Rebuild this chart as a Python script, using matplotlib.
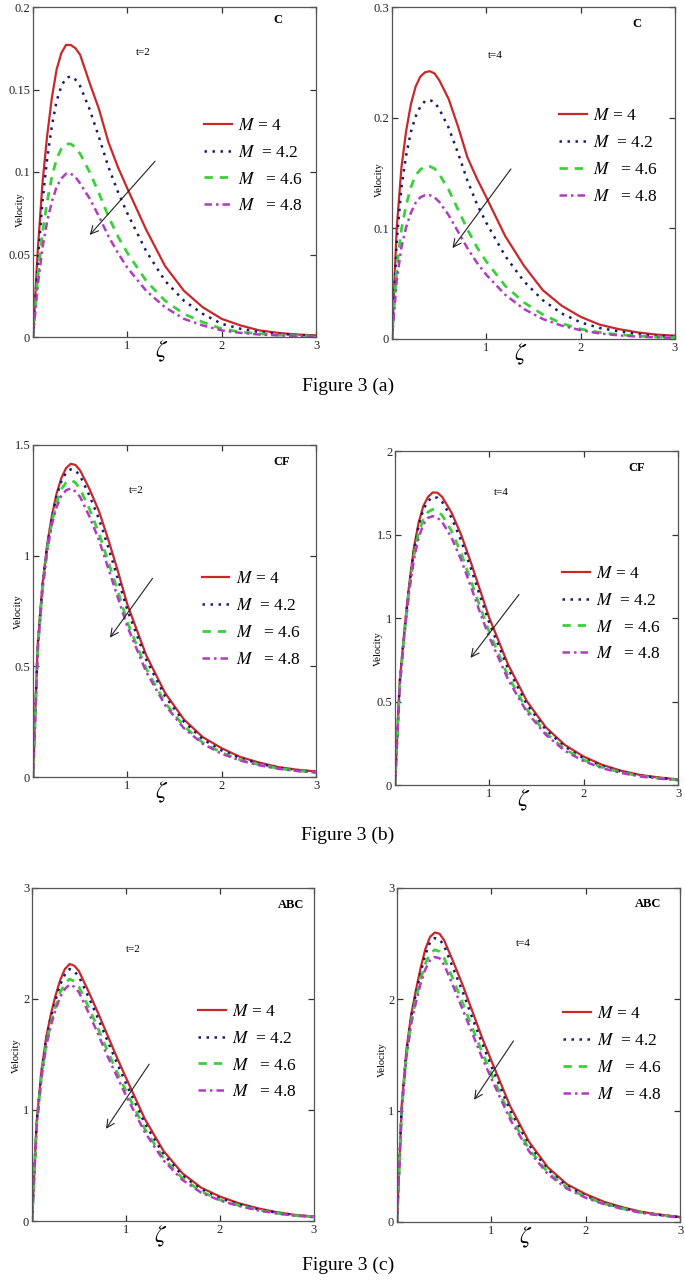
import matplotlib
matplotlib.use("Agg")
import matplotlib.pyplot as plt

plt.rcParams['font.family'] = ['Liberation Serif', 'DejaVu Serif']
plt.rcParams['mathtext.fontset'] = 'stix'

# ---------------- data ----------------
zeta = [0, 0.05, 0.1, 0.15, 0.2, 0.25, 0.3, 0.35, 0.4, 0.45, 0.5, 0.6, 0.7,
        0.8, 0.9, 1.0, 1.2, 1.4, 1.6, 1.8, 2.0, 2.2, 2.4, 2.6, 2.8, 3.0]

m_labels = [r"$M$ = 4", r"$M$  = 4.2", r"$M$   = 4.6", r"$M$   = 4.8"]

# Panel (a) left: C, t=2
c_t2_m40 = [0, .052, .093, .122, .145, .162, .172, .177, .177, .175, .171, .154, .138, .118, .103, .090, .065, .043, .028, .018, .011, .007, .004, .0025, .0015, .001]
c_t2_m42 = [0, .045, .082, .108, .128, .143, .152, .157, .158, .156, .152, .138, .121, .103, .088, .075, .052, .034, .022, .014, .008, .005, .003, .002, .0012, .0008]
c_t2_m46 = [0, .036, .063, .082, .097, .108, .114, .117, .117, .115, .111, .100, .087, .073, .061, .051, .034, .022, .014, .009, .005, .003, .002, .0012, .0008, .0005]
c_t2_m48 = [0, .031, .054, .070, .082, .091, .096, .099, .099, .097, .093, .084, .073, .061, .051, .042, .028, .018, .011, .007, .004, .0025, .0015, .001, .0006, .0004]

# Panel (a) right: C, t=4
c_t4_m40 = [0, .100, .155, .188, .212, .228, .237, .241, .242, .240, .234, .217, .192, .164, .145, .128, .093, .066, .044, .030, .020, .013, .009, .006, .004, .003]
c_t4_m42 = [0, .088, .137, .166, .187, .201, .210, .215, .216, .214, .208, .191, .168, .143, .122, .105, .075, .052, .035, .023, .015, .010, .007, .0045, .003, .002]
c_t4_m46 = [0, .064, .099, .121, .137, .148, .153, .156, .156, .154, .149, .135, .117, .099, .083, .070, .048, .033, .022, .014, .009, .006, .004, .0027, .0018, .0012]
c_t4_m48 = [0, .053, .083, .101, .114, .123, .128, .130, .130, .128, .124, .112, .097, .082, .069, .058, .040, .027, .018, .012, .008, .005, .0033, .0022, .0015, .001]

# Panel (b) left: CF, t=2
cf_t2_m40 = [0, .60, .87, 1.05, 1.18, 1.28, 1.35, 1.395, 1.415, 1.41, 1.385, 1.30, 1.20, 1.07, .93, .78, .55, .38, .26, .18, .13, .09, .065, .045, .033, .025]
cf_t2_m42 = [0, .59, .86, 1.04, 1.17, 1.27, 1.335, 1.375, 1.39, 1.385, 1.36, 1.27, 1.165, 1.035, .895, .755, .53, .365, .25, .17, .12, .085, .06, .042, .031, .023]
cf_t2_m46 = [0, .58, .85, 1.03, 1.15, 1.24, 1.30, 1.33, 1.342, 1.33, 1.30, 1.21, 1.10, .97, .84, .70, .49, .335, .23, .155, .11, .077, .055, .039, .028, .021]
cf_t2_m48 = [0, .57, .84, 1.02, 1.14, 1.22, 1.27, 1.295, 1.304, 1.29, 1.265, 1.175, 1.07, .94, .81, .68, .475, .325, .22, .15, .105, .074, .053, .037, .027, .020]

# Panel (b) right: CF, t=4
cf_t4_m40 = [0, .62, .93, 1.20, 1.42, 1.57, 1.67, 1.725, 1.752, 1.75, 1.725, 1.63, 1.50, 1.34, 1.17, 1.00, .72, .50, .345, .24, .17, .12, .085, .06, .045, .034]
cf_t4_m42 = [0, .61, .92, 1.19, 1.40, 1.55, 1.65, 1.70, 1.725, 1.72, 1.695, 1.60, 1.465, 1.305, 1.135, .97, .695, .48, .33, .23, .16, .113, .08, .057, .042, .032]
cf_t4_m46 = [0, .60, .91, 1.17, 1.37, 1.51, 1.59, 1.635, 1.65, 1.64, 1.615, 1.52, 1.39, 1.23, 1.07, .915, .65, .45, .31, .215, .15, .105, .075, .053, .040, .030]
cf_t4_m48 = [0, .59, .90, 1.16, 1.35, 1.48, 1.56, 1.60, 1.61, 1.60, 1.575, 1.48, 1.35, 1.195, 1.035, .885, .63, .435, .30, .205, .143, .10, .072, .051, .038, .029]

# Panel (c) left: ABC, t=2
abc_t2_m40 = [0, .90, 1.35, 1.65, 1.86, 2.03, 2.17, 2.27, 2.315, 2.30, 2.25, 2.07, 1.88, 1.68, 1.48, 1.29, .92, .63, .43, .30, .22, .16, .115, .08, .055, .040]
abc_t2_m42 = [0, .89, 1.33, 1.63, 1.83, 1.99, 2.13, 2.22, 2.27, 2.25, 2.20, 2.02, 1.83, 1.63, 1.43, 1.24, .88, .60, .41, .285, .205, .15, .107, .075, .052, .038]
abc_t2_m46 = [0, .87, 1.30, 1.59, 1.78, 1.93, 2.06, 2.14, 2.18, 2.16, 2.11, 1.93, 1.74, 1.54, 1.35, 1.17, .83, .565, .385, .265, .19, .14, .10, .07, .049, .036]
abc_t2_m48 = [0, .86, 1.28, 1.57, 1.76, 1.90, 2.02, 2.09, 2.13, 2.11, 2.06, 1.88, 1.69, 1.49, 1.31, 1.13, .80, .545, .37, .255, .185, .135, .097, .068, .048, .035]

# Panel (c) right: ABC, t=4
abc_t4_m40 = [0, 1.05, 1.55, 1.86, 2.08, 2.28, 2.45, 2.56, 2.60, 2.59, 2.53, 2.33, 2.12, 1.89, 1.66, 1.45, 1.04, .72, .49, .34, .25, .18, .13, .09, .065, .045]
abc_t4_m42 = [0, 1.04, 1.53, 1.84, 2.05, 2.24, 2.40, 2.51, 2.55, 2.54, 2.48, 2.27, 2.06, 1.83, 1.61, 1.40, 1.00, .69, .47, .325, .235, .17, .123, .086, .062, .043]
abc_t4_m46 = [0, 1.02, 1.50, 1.80, 2.00, 2.18, 2.32, 2.41, 2.445, 2.43, 2.37, 2.17, 1.96, 1.74, 1.53, 1.33, .95, .655, .445, .31, .225, .163, .118, .083, .060, .042]
abc_t4_m48 = [0, 1.01, 1.48, 1.78, 1.97, 2.14, 2.27, 2.35, 2.38, 2.37, 2.31, 2.11, 1.90, 1.69, 1.48, 1.29, .92, .635, .43, .30, .218, .158, .115, .081, .058, .041]

panel_series = [
    [c_t2_m40, c_t2_m42, c_t2_m46, c_t2_m48],
    [c_t4_m40, c_t4_m42, c_t4_m46, c_t4_m48],
    [cf_t2_m40, cf_t2_m42, cf_t2_m46, cf_t2_m48],
    [cf_t4_m40, cf_t4_m42, cf_t4_m46, cf_t4_m48],
    [abc_t2_m40, abc_t2_m42, abc_t2_m46, abc_t2_m48],
    [abc_t4_m40, abc_t4_m42, abc_t4_m46, abc_t4_m48],
]
panel_tags = ["C", "C", "CF", "CF", "ABC", "ABC"]
panel_times = ["t=2", "t=4", "t=2", "t=4", "t=2", "t=4"]
y_ticks = [[0, 0.05, 0.1, 0.15, 0.2], [0, 0.1, 0.2, 0.3],
           [0, 0.5, 1, 1.5], [0, 0.5, 1, 1.5, 2],
           [0, 1, 2, 3], [0, 1, 2, 3]]
y_ticklabels = [["0", "0.05", "0.1", "0.15", "0.2"], ["0", "0.1", "0.2", "0.3"],
                ["0", "0.5", "1", "1.5"], ["0", "0.5", "1", "1.5", "2"],
                ["0", "1", "2", "3"], ["0", "1", "2", "3"]]
captions = ["Figure 3 (a)", "Figure 3 (b)", "Figure 3 (c)"]

# ---------------- layout / style ----------------
W, H = 685, 1285
# (left, top, right, bottom) in pixels
boxes = [(33, 7, 316, 337), (392, 7, 675, 339),
         (33, 445, 316, 777), (395, 451, 678, 785),
         (32, 888, 314, 1221), (397, 888, 680, 1222)]
styles = [dict(color="#c8282a", ls="-", lw=1.6),
          dict(color="#1a1a6e", ls=(0, (1, 2.2)), lw=1.8),
          dict(color="#3ccf3c", ls=(0, (3, 2.5)), lw=2.0),
          dict(color="#b03cc0", ls=(0, (3, 1.6, 1, 1.6)), lw=1.8)]
arrows = [((0.438, 0.539), (0.194, 0.303)), ((0.426, 0.519), (0.208, 0.267)),
          ((0.428, 0.605), (0.266, 0.413)), ((0.444, 0.577), (0.261, 0.374)),
          ((0.421, 0.478), (0.257, 0.270)), ((0.417, 0.549), (0.267, 0.359))]
legend_pos = [(0.604, 0.665), (0.59, 0.695), (0.596, 0.62), (0.591, 0.657),
              (0.59, 0.653), (0.588, 0.647)]
time_pos = [(0.389, 0.861), (0.364, 0.855), (0.366, 0.864), (0.377, 0.875),
            (0.359, 0.814), (0.446, 0.834)]
tag_pos = [(0.866, 0.98), (0.867, 0.968), (0.879, 0.968), (0.854, 0.968),
           (0.917, 0.967), (0.888, 0.969)]
vel_pos = [(-0.046, 0.385), (-0.045, 0.479), (-0.052, 0.498), (-0.059, 0.409),
           (-0.054, 0.498), (-0.051, 0.485)]
caption_y = [386, 835, 1265]

fig = plt.figure(figsize=(W / 100, H / 100), dpi=100)

for i, (l, t, r, b) in enumerate(boxes):
    ax = fig.add_axes([l / W, 1 - b / H, (r - l) / W, (b - t) / H])
    lines = []
    for ser, st in zip(panel_series[i], styles):
        ln, = ax.plot(zeta, ser, **st)
        lines.append(ln)
    ax.set_xlim(0, 3)
    ax.set_ylim(y_ticks[i][0], y_ticks[i][-1])
    ax.set_xticks([0, 1, 2, 3])
    ax.set_xticklabels(["", "1", "2", "3"])
    ax.set_yticks(y_ticks[i])
    ax.set_yticklabels(y_ticklabels[i])
    ax.tick_params(direction="in", length=4, width=0.9, top=True, right=True,
                   labelsize=9, pad=2, colors="#333333", labelcolor="#222222")
    for sp in ax.spines.values():
        sp.set_color("#555555")
        sp.set_linewidth(0.9)
    ax.text(0.456, -0.045, r"$\zeta$", transform=ax.transAxes, fontsize=17,
            ha="center", va="center")
    ax.text(vel_pos[i][0], vel_pos[i][1], "Velocity", transform=ax.transAxes,
            rotation=90, fontsize=7.5, ha="center", va="center")
    ax.text(tag_pos[i][0], tag_pos[i][1], panel_tags[i], transform=ax.transAxes,
            fontsize=9, fontweight="bold", ha="center", va="top")
    ax.text(time_pos[i][0], time_pos[i][1], panel_times[i], transform=ax.transAxes,
            fontsize=8, ha="center", va="center")
    ax.annotate("", xy=arrows[i][1], xytext=arrows[i][0],
                xycoords="axes fraction", textcoords="axes fraction",
                arrowprops=dict(arrowstyle="->", color="#222222", lw=0.8,
                                mutation_scale=14))
    ax.legend(lines, m_labels, loc="upper left", bbox_to_anchor=legend_pos[i],
              frameon=False, fontsize=12.5, handlelength=1.6, handletextpad=0.35,
              labelspacing=0.62, borderpad=0, borderaxespad=0)

for cap, cy in zip(captions, caption_y):
    fig.text(348 / W, 1 - cy / H, cap, fontsize=14, ha="center", va="center")

fig.savefig("out.png", dpi=100)
